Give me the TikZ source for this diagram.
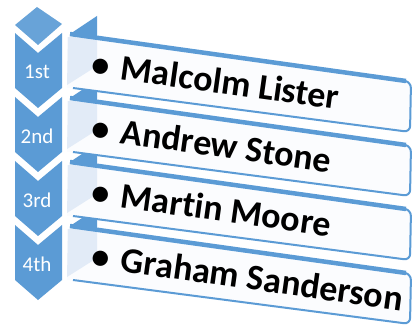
\documentclass[tikz,border=0pt]{standalone}
\usepackage{fontspec}
\setmainfont[Ligatures=NoCommon]{Carlito}
\definecolor{rankblue}{HTML}{5B9BD5}
\definecolor{sidepanel}{HTML}{E2EBF7}
\definecolor{boxface}{HTML}{FBFCFE}

\begin{document}
\begin{tikzpicture}[x=1pt, y=-1pt,
    chevron/.pic={\fill[rankblue] (15,33) -- (38,53) -- (62,33) -- (62,88) -- (38,108) -- (15,88) -- cycle;},
    namebox/.pic={
      \fill[boxface] (67,37) -- (97,37) -- (405,81) [rounded corners=6pt] -- (411,82) -- (410,132) [sharp corners] -- (73,88) -- (67,88) -- cycle;
      \fill[sidepanel] (68,37) -- (97,38) -- (97,66) -- (67,85) -- cycle;
      \fill[rankblue] (70,34) -- (97,16) -- (97,38) -- cycle;
      \draw[rankblue, line width=4.5pt] (70,34) -- (406,81);
      \draw[rankblue, line width=2pt, rounded corners=6pt] (400,80) -- (411,82) -- (410,132) -- (73,88);
    },
    rank/.style={text=white, font=\fontsize{21}{24}\selectfont},
    entry/.style={anchor=base west, rotate=-8, inner sep=0pt, font=\bfseries\fontsize{36}{40}\selectfont}]
  \useasboundingbox (0,0) rectangle (415,331);
  % chevron column
  \fill[rankblue!92!white] (15,25) -- (37,7) -- (62,24) -- (38,45) -- cycle;
  \pic at (0,0) {chevron};
  \pic at (0,64) {chevron};
  \pic at (0,128) {chevron};
  \pic at (0,192) {chevron};
  \node[rank] (c1) at (37,72) {1st};
  \node[rank] (c2) at (37,136) {2nd};
  \node[rank] (c3) at (37,200) {3rd};
  \node[rank] (c4) at (37,264) {4th};
  % name boxes, lowest first
  \pic at (0,192) {namebox};
  \pic at (0,128) {namebox};
  \pic at (0,64) {namebox};
  \pic at (0,0) {namebox};
  \node[entry] (r1) at (90,75) {\textbullet\hspace{12pt}Malcolm Lister};
  \node[entry] (r2) at (90,139) {\textbullet\hspace{12pt}Andrew Stone};
  \node[entry] (r3) at (90,203) {\textbullet\hspace{12pt}Martin Moore};
  \node[entry] (r4) at (90,267) {\textbullet\hspace{12pt}Graham Sanderson};
\end{tikzpicture}
\end{document}
